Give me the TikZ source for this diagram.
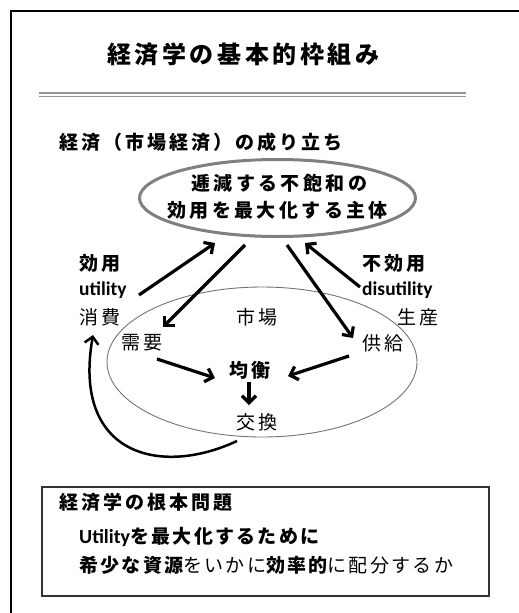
\documentclass[tikz,border=0pt]{standalone}
\usepackage{fontspec}
\setmainfont{Noto Sans CJK JP}
\newfontfamily\lat{Carlito}
\usetikzlibrary{arrows.meta}
\definecolor{rulegray}{gray}{0.58}
\definecolor{ellgray}{gray}{0.5}
\definecolor{thingray}{gray}{0.45}
\tikzset{
  jtxt/.style={inner sep=0pt, anchor=west, font=\fontsize{19}{19}\selectfont\addfontfeatures{LetterSpace=16}},
  jbold/.style={inner sep=0pt, anchor=west, font=\fontsize{19}{19}\selectfont\bfseries\addfontfeatures{LetterSpace=16}},
  jbig/.style={inner sep=0pt, anchor=west, font=\fontsize{24}{24}\selectfont\bfseries\addfontfeatures{LetterSpace=15}},
  ltxt/.style={inner sep=0pt, anchor=west, font=\fontsize{19.5}{19.5}\selectfont\lat\bfseries},
  arr/.style={line width=3.2pt, -{Straight Barb[length=7pt,width=14pt]}},
  frameline/.style={line width=2pt, black},
}
\begin{document}
\begin{tikzpicture}[x=1pt,y=-1pt]
\useasboundingbox (0,0) rectangle (519,613);
% frame
\coordinate (fTL) at (11,11);
\coordinate (fTR) at (520,11);
\coordinate (fBL) at (11,614);
\draw[frameline] (fTR) -- (fTL) -- (fBL);
% title
\node[jbig] (title) at (107,54) {経済学の基本的枠組み};
% double rule
\coordinate (r1a) at (39,92.8); \coordinate (r1b) at (466,92.8);
\coordinate (r2a) at (39,96.6); \coordinate (r2b) at (466,96.6);
\draw[rulegray, line width=1.4pt] (r1a) -- (r1b);
\draw[rulegray, line width=1.4pt] (r2a) -- (r2b);
% subtitle
\node[jbold] (sub) at (59,142) {経済（市場経済）の成り立ち};
% ellipses
\draw[thingray, line width=0.9pt] (262,362) ellipse [x radius=155, y radius=75];
\draw[ellgray, line width=3pt] (277.5,198) ellipse [x radius=138, y radius=38.5];
\node[jbold, font=\fontsize{19}{19}\selectfont\bfseries\addfontfeatures{LetterSpace=18}] (ag1) at (191,183.5) {逓減する不飽和の};
\node[jbold, font=\fontsize{19}{19}\selectfont\bfseries\addfontfeatures{LetterSpace=18}] (ag2) at (167,210.5) {効用を最大化する主体};
% labels
\node[jbold] (kouyou) at (79,263) {効用};
\node[ltxt] (util) at (79,290) {utility};
\node[jtxt] (shohi) at (79,317) {消費};
\node[jbold] (fukouyou) at (362,263) {不効用};
\node[ltxt] (disutil) at (362,290) {disutility};
\node[jtxt] (seisan) at (397,317) {生産};
\node[jtxt] (shijou) at (236,317) {市場};
\node[jtxt] (juyou) at (121,343) {需要};
\node[jtxt] (kyoukyu) at (362,343) {供給};
\node[jbold] (kinkou) at (229,370) {均衡};
\node[jtxt] (koukan) at (236,422) {交換};
% arrows
\coordinate (a1s) at (139,295); \coordinate (a1e) at (215,243);
\coordinate (a2s) at (245,245); \coordinate (a2e) at (163,327);
\coordinate (a3s) at (287,245); \coordinate (a3e) at (353,338);
\coordinate (a4s) at (360,287); \coordinate (a4e) at (305,243);
\coordinate (a5s) at (157,359); \coordinate (a5e) at (215,378);
\coordinate (a6s) at (349,356); \coordinate (a6e) at (288,376);
\coordinate (a7s) at (249,382); \coordinate (a7e) at (249,405);
\coordinate (cs) at (237,441); \coordinate (ce) at (93,335);
\draw[arr] (a1s) -- (a1e);
\draw[arr] (a2s) -- (a2e);
\draw[arr] (a3s) -- (a3e);
\draw[arr] (a4s) -- (a4e);
\draw[arr] (a5s) -- (a5e);
\draw[arr] (a6s) -- (a6e);
\draw[arr] (a7s) -- (a7e);
\draw[line width=2.5pt, -{Straight Barb[length=7pt,width=14pt]}] (cs) .. controls (160,477) and (72,455) .. (ce);
% bottom box
\coordinate (bxTL) at (42,487); \coordinate (bxBR) at (489,596);
\draw[line width=1.1pt, black!80] (bxTL) rectangle (bxBR);
\node[jbold] (prob) at (59,502) {経済学の根本問題};
\node[jbold, font=\fontsize{19}{19}\selectfont\bfseries\addfontfeatures{LetterSpace=12}] (line1) at (79,537) {{\lat\fontsize{20}{20}\selectfont Utility}を最大化するために};
\node[jtxt, font=\fontsize{19}{19}\selectfont\addfontfeatures{LetterSpace=12}] (line2) at (79,565) {{\bfseries 希少な資源}をいかに{\bfseries 効率的}に配分するか};
\end{tikzpicture}
\end{document}
